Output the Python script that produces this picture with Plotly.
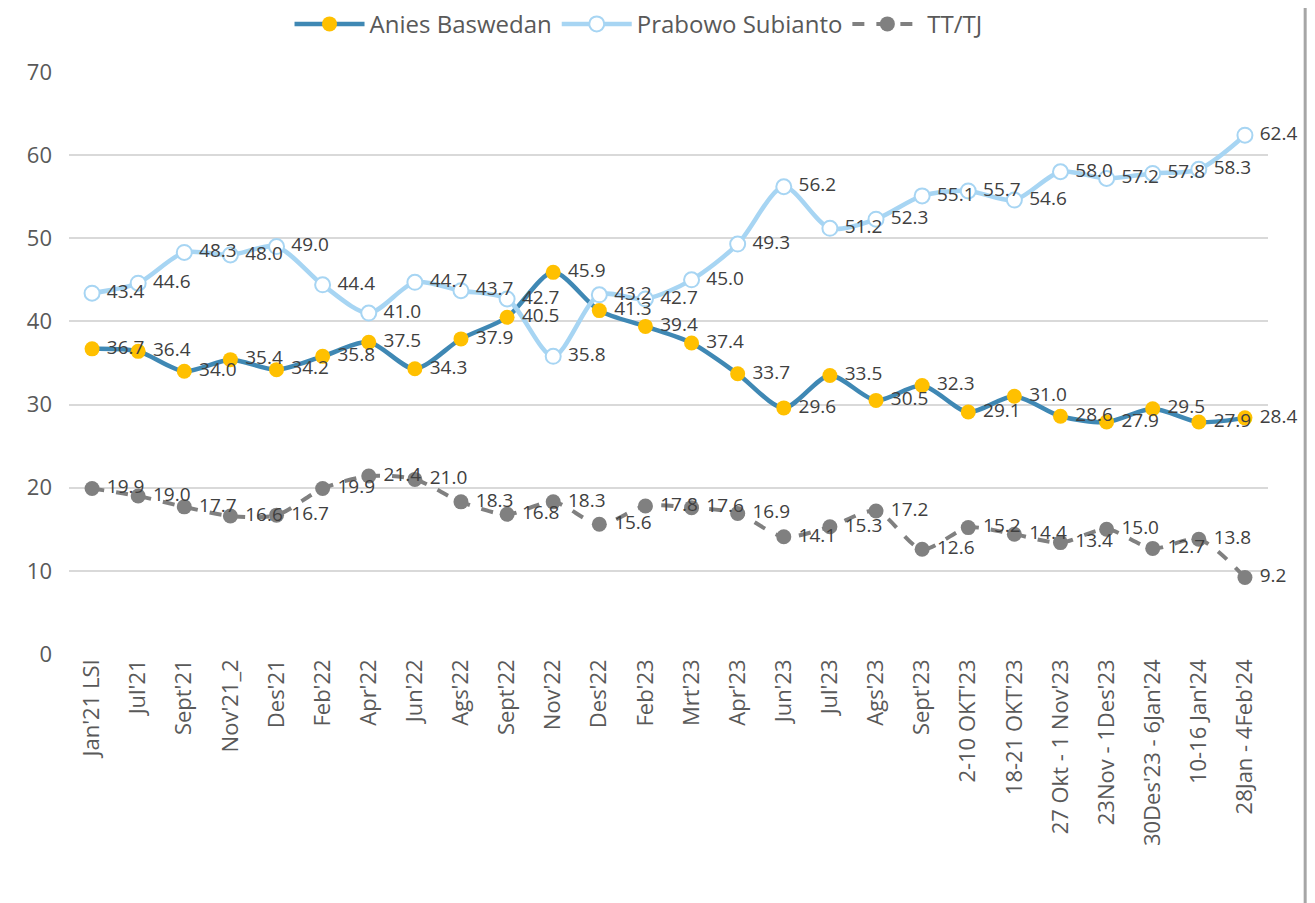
import plotly.graph_objects as go

# ── Data ──────────────────────────────────────────────────────────────────────
CATEGORIES = [
    "Jan'21 LSI", "Jul'21", "Sept'21", "Nov'21_2", "Des'21", "Feb'22", "Apr'22",
    "Jun'22", "Ags'22", "Sept'22", "Nov'22", "Des'22", "Feb'23", "Mrt'23",
    "Apr'23", "Jun'23", "Jul'23", "Ags'23", "Sept'23", "2-10 OKT'23",
    "18-21 OKT'23", "27 Okt - 1 Nov'23", "23Nov - 1Des'23", "30Des'23 - 6Jan'24",
    "10-16 Jan'24", "28Jan - 4Feb'24",
]
ANIES = [36.7, 36.4, 34.0, 35.4, 34.2, 35.8, 37.5, 34.3, 37.9, 40.5, 45.9, 41.3, 39.4,
         37.4, 33.7, 29.6, 33.5, 30.5, 32.3, 29.1, 31.0, 28.6, 27.9, 29.5, 27.9, 28.4]
PRABOWO = [43.4, 44.6, 48.3, 48.0, 49.0, 44.4, 41.0, 44.7, 43.7, 42.7, 35.8, 43.2, 42.7,
           45.0, 49.3, 56.2, 51.2, 52.3, 55.1, 55.7, 54.6, 58.0, 57.2, 57.8, 58.3, 62.4]
TTTJ = [19.9, 19.0, 17.7, 16.6, 16.7, 19.9, 21.4, 21.0, 18.3, 16.8, 18.3, 15.6, 17.8,
        17.6, 16.9, 14.1, 15.3, 17.2, 12.6, 15.2, 14.4, 13.4, 15.0, 12.7, 13.8, 9.2]
Y_TICKS = [0, 10, 20, 30, 40, 50, 60, 70]

# ── Style ─────────────────────────────────────────────────────────────────────
FONT = "Open Sans, sans-serif"
C_ANIES = "#3F88B4"
C_ANIES_MK = "#FFC000"
C_PRABOWO = "#A7D5F3"
C_TT = "#808080"
C_LABEL = "#404040"
C_TICK = "#595959"
C_GRID = "#D9D9D9"

SERIES = [
    ("Anies Baswedan", ANIES, dict(color=C_ANIES, width=4.5, shape="spline", smoothing=0.8),
     dict(size=15, color=C_ANIES_MK, line=dict(width=0))),
    ("Prabowo Subianto", PRABOWO, dict(color=C_PRABOWO, width=4.5, shape="spline", smoothing=0.8),
     dict(size=15, color="white", line=dict(color=C_PRABOWO, width=2))),
    ("TT/TJ", TTTJ, dict(color=C_TT, width=4, dash="dash", shape="spline", smoothing=0.8),
     dict(size=15, color=C_TT, line=dict(width=0))),
]

fig = go.Figure()

for name, vals, line, marker in SERIES:
    fig.add_trace(go.Scatter(
        x=CATEGORIES, y=vals, name=name, mode="lines+markers",
        line=line, marker=marker, cliponaxis=False,
    ))

# data labels on top of every line
for name, vals, _, _ in SERIES:
    fig.add_trace(go.Scatter(
        x=CATEGORIES, y=vals, mode="text", showlegend=False, cliponaxis=False,
        text=[f"   {v:.1f}" for v in vals], textposition="middle right",
        textfont=dict(family=FONT, size=19, color=C_LABEL),
        hoverinfo="skip",
    ))

# page body adds an 8px offset, so the figure is 8px smaller than the window
fig.update_layout(
    width=1307, height=895,
    paper_bgcolor="white", plot_bgcolor="white",
    font=dict(family=FONT, color=C_TICK),
    margin=dict(l=61, r=47, t=64, b=249, autoexpand=False),
    showlegend=True,
    legend=dict(
        orientation="h", x=0.475, xanchor="center", y=1.082, yanchor="middle",
        font=dict(family=FONT, size=24, color=C_TICK),
        itemwidth=70, bgcolor="rgba(0,0,0,0)",
    ),
    xaxis=dict(
        type="category", range=[-0.5, len(CATEGORIES) - 0.5],
        tickangle=-90, tickfont=dict(family=FONT, size=22, color=C_TICK),
        showgrid=False, showline=False, zeroline=False, ticks="",
    ),
    yaxis=dict(
        range=[0, 70], tickvals=Y_TICKS, showgrid=True, gridcolor=C_GRID, gridwidth=2,
        zeroline=False, showline=False, ticks="", ticklabelstandoff=16,
        tickfont=dict(family=FONT, size=22, color=C_TICK),
    ),
    shapes=[dict(type="line", xref="paper", yref="paper",
                 x0=1.031, x1=1.031, y0=-0.45, y1=1.15,
                 line=dict(color="#A6A6A6", width=3))],
)

fig.write_html("out.html")
